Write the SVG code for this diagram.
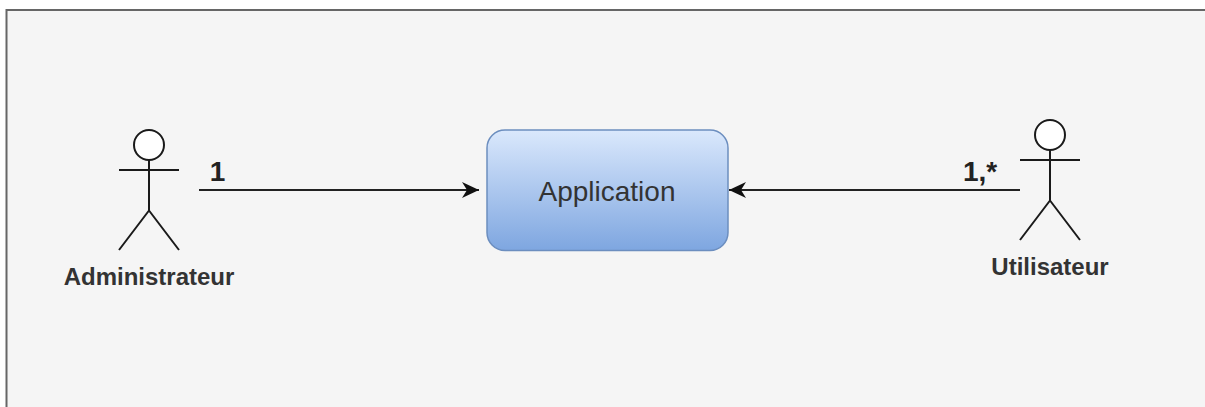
<svg xmlns="http://www.w3.org/2000/svg" width="1205" height="407" viewBox="0 0 1205 407">
<style>
text{font-family:"Liberation Sans",Arial,sans-serif;text-anchor:middle}
.s{fill:none;stroke:#1a1a1a;stroke-width:2}
.h{fill:#fff;stroke:#1a1a1a;stroke-width:2}
.c{fill:none;stroke:#222;stroke-width:2}
.l{font-size:28px;font-weight:bold;fill:#222}
.a{font-size:24px;font-weight:bold;fill:#333}
</style>
<defs>
<linearGradient id="g" x1="0" y1="0" x2="0" y2="1"><stop offset="0" stop-color="#dae8fc"/><stop offset="1" stop-color="#7ea6e0"/></linearGradient>
<marker id="arr" markerUnits="userSpaceOnUse" markerWidth="18" markerHeight="18" refX="17" refY="8" orient="auto"><path d="M0 0L17 8L0 16L5 8Z" fill="#111"/></marker>
</defs>
<rect id="frame" x="6.500" y="10" width="1210" height="410" fill="#f5f5f5" stroke="#666" stroke-width="2"/>
<g id="connectors">
<path class="c" d="M199 190H479" marker-end="url(#arr)"/>
<path class="c" d="M1020 190H729" marker-end="url(#arr)"/>
</g>
<g id="administrateur">
<circle class="h" cx="149" cy="145" r="15"/>
<path class="s" d="M149 160V210.500M119 170H179M149 210.500L119 250M149 210.500L179 250"/>
<text class="a" x="149" y="285">Administrateur</text>
</g>
<g id="application">
<rect x="487" y="130" width="241" height="120.500" rx="18" fill="url(#g)" stroke="#6c8ebf" stroke-width="1.500"/>
<text x="607" y="201" font-size="28" fill="#333">Application</text>
</g>
<g id="utilisateur">
<circle class="h" cx="1050" cy="135" r="15"/>
<path class="s" d="M1050 150V200.500M1020 160H1080M1050 200.500L1020 240M1050 200.500L1080 240"/>
<text class="a" x="1050" y="275">Utilisateur</text>
</g>
<text class="l" x="217.500" y="181">1</text>
<text class="l" x="980" y="181">1,*</text>
</svg>
